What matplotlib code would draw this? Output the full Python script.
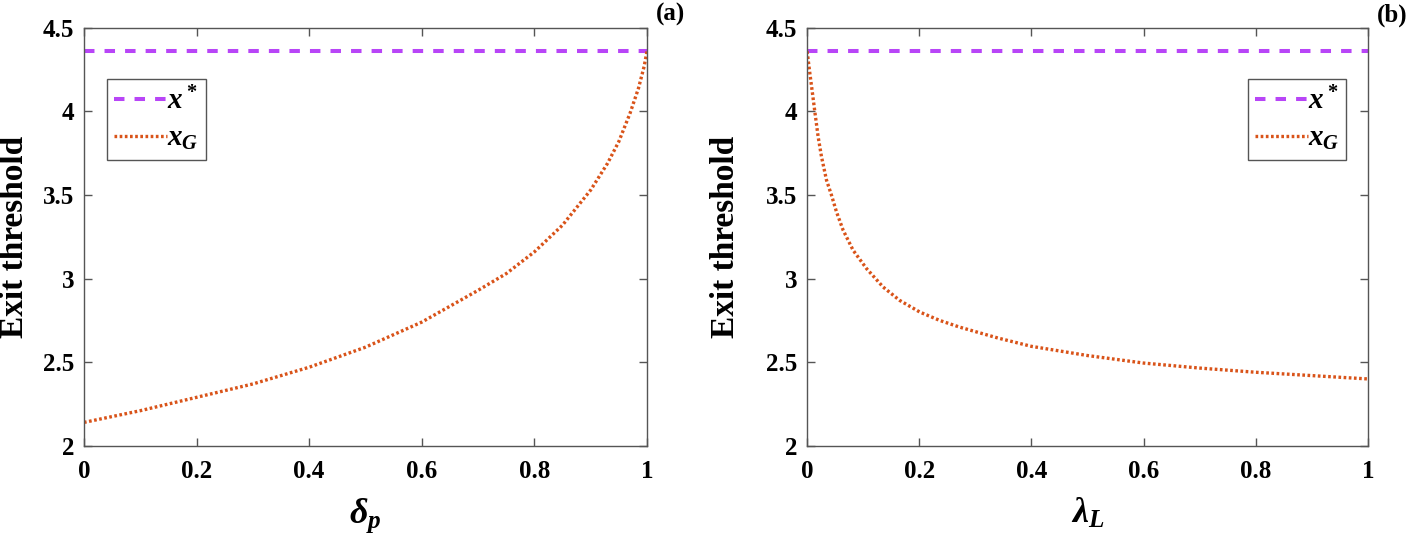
import matplotlib
matplotlib.use("Agg")
import matplotlib.pyplot as plt

plt.rcParams["font.family"] = ["Liberation Serif", "DejaVu Serif"]
plt.rcParams["font.weight"] = "bold"
plt.rcParams["mathtext.fontset"] = "custom"
plt.rcParams["mathtext.it"] = "Liberation Serif:italic:bold"
plt.rcParams["mathtext.rm"] = "Liberation Serif:bold"
plt.rcParams["mathtext.bf"] = "Liberation Serif:bold"

# values
x_star = 4.36
x_range = [0, 1]

delta_p = [0, 0.1, 0.2, 0.3, 0.4, 0.5, 0.6, 0.7, 0.75, 0.8, 0.85, 0.9,
           0.93, 0.95, 0.97, 0.985, 0.995, 1.0]
xG_delta = [2.14, 2.21, 2.29, 2.37, 2.47, 2.59, 2.74, 2.93, 3.03, 3.16, 3.32,
            3.53, 3.69, 3.82, 3.99, 4.14, 4.27, 4.36]

lambda_L = [0, 0.0048, 0.0095, 0.0137, 0.0196, 0.0256, 0.0345, 0.0434,
            0.0523, 0.0642, 0.082, 0.106, 0.1355, 0.165, 0.201, 0.2365,
            0.272, 0.34, 0.4, 0.5, 0.6, 0.7, 0.8, 0.9, 1.0]
xG_lambda = [4.36, 4.23, 4.11, 4.00, 3.85, 3.73, 3.59, 3.50,
             3.40, 3.29, 3.17, 3.06, 2.95, 2.87, 2.80, 2.75,
             2.71, 2.645, 2.595, 2.54, 2.495, 2.465, 2.44, 2.42, 2.40]

purple = "#b845f7"
orange = "#d95319"
axcol = "#555555"

fig = plt.figure(figsize=(14.16, 5.47), dpi=100)
ax_a = fig.add_axes([0.0593, 0.185, 0.3976, 0.764])
ax_b = fig.add_axes([0.570, 0.185, 0.396, 0.764])

panels = [
    (ax_a, delta_p, xG_delta, r"$\delta_p$", "(a)", (0.041, 0.877), -0.096),
    (ax_b, lambda_L, xG_lambda, r"$\lambda_L$", "(b)", (0.786, 0.877), -0.118),
]

for ax, xs, ys, xlab, tag, legpos, ylab_x in panels:
    ax.plot(x_range, [x_star, x_star], color=purple, lw=2.9,
            dashes=(2.6, 2.5), label=r"$x^*$")
    ax.plot(xs, ys, color=orange, lw=2.4, dashes=(0.8, 0.75),
            label=r"$x_G$")
    ax.set_xlim(0, 1)
    ax.set_ylim(2, 4.5)
    ax.set_xticks([0, 0.2, 0.4, 0.6, 0.8, 1])
    ax.set_xticklabels(["0", "0.2", "0.4", "0.6", "0.8", "1"])
    ax.set_yticks([2, 2.5, 3, 3.5, 4, 4.5])
    ax.set_yticklabels(["2", "2.5", "3", "3.5", "4", "4.5"])
    ax.tick_params(direction="in", top=True, right=True, length=6,
                   width=1, color=axcol, labelsize=18)
    ax.tick_params(axis="x", pad=10)
    ax.tick_params(axis="y", pad=7)
    for s in ax.spines.values():
        s.set_color(axcol)
        s.set_linewidth(1)
    ax.set_ylabel("Exit threshold", fontsize=24, fontweight="bold")
    ax.yaxis.set_label_coords(ylab_x, 0.5)
    ax.set_xlabel(xlab, fontsize=26, labelpad=10)
    ax.text(1.016, 1.031, tag, transform=ax.transAxes, ha="left",
            va="center", fontsize=18, fontweight="bold")
    leg = ax.legend(loc="upper left", bbox_to_anchor=legpos, fontsize=21,
                    handlelength=1.8, handletextpad=0.0, borderpad=0.25,
                    labelspacing=0.35, fancybox=False, framealpha=1,
                    borderaxespad=0)
    leg.get_frame().set_edgecolor(axcol)
    leg.get_frame().set_linewidth(1)

fig.savefig("out.png", dpi=100)
